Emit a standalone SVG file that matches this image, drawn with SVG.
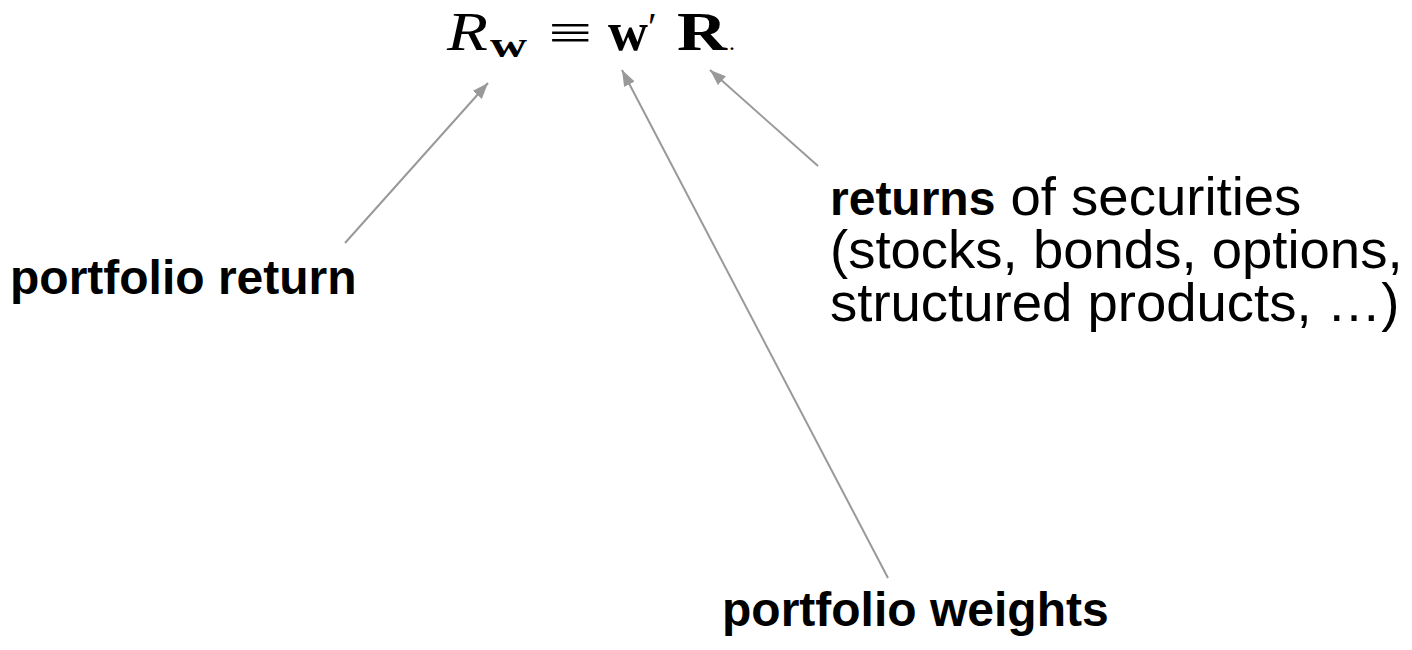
<svg xmlns="http://www.w3.org/2000/svg" width="1412" height="650" viewBox="0 0 1412 650">
<style>
.lbl{font-family:"Liberation Sans",Arial,sans-serif;fill:#000}
.b{font-weight:bold}
.m{font-family:"Liberation Serif","Times New Roman",serif;fill:#000}
.conn{stroke:#999;stroke-width:2;fill:none;marker-end:url(#ah)}
</style>
<defs>
<marker id="ah" markerUnits="userSpaceOnUse" markerWidth="18" markerHeight="14" refX="16" refY="6" orient="auto">
<path d="M0,0 L16,6 L0,12 z" fill="#999"/>
</marker>
</defs>
<rect width="1412" height="650" fill="#fff"/>
<g id="formula">
<text class="m" x="447" y="50" font-size="54" font-style="italic" textLength="41" lengthAdjust="spacingAndGlyphs">R</text>
<text class="m" x="490" y="57" font-size="36" font-weight="bold" textLength="37" lengthAdjust="spacingAndGlyphs">w</text>
<text class="m" x="548" y="50" font-size="52" textLength="44" lengthAdjust="spacingAndGlyphs">≡</text>
<text class="m" x="608" y="50" font-size="54" font-weight="bold" textLength="40" lengthAdjust="spacingAndGlyphs">w</text>
<text class="m" x="648" y="40" font-size="40">′</text>
<text class="m" x="677" y="50" font-size="54" font-weight="bold" textLength="50" lengthAdjust="spacingAndGlyphs">R</text>
<text class="m" x="729" y="50" font-size="24" fill="#bbb">.</text>
</g>
<g id="portfolio-return">
<text class="lbl b" x="10" y="294" font-size="48">portfolio return</text>
</g>
<g id="returns">
<text class="lbl" font-size="54.5"><tspan x="830" y="215"><tspan class="b" font-size="48">returns</tspan> of securities</tspan><tspan x="830" y="268">(stocks, bonds, options,</tspan><tspan x="830" y="321">structured products, …)</tspan></text>
</g>
<g id="portfolio-weights">
<text class="lbl b" x="722" y="626" font-size="48">portfolio weights</text>
</g>
<g id="connectors">
<line class="conn" x1="345" y1="243" x2="488" y2="83"/>
<line class="conn" x1="888" y1="578" x2="622" y2="70"/>
<line class="conn" x1="818" y1="166" x2="710" y2="70"/>
</g>
</svg>
